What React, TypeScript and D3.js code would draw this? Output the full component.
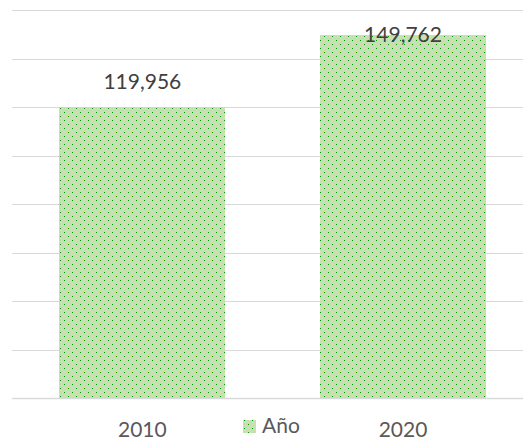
import React from "react";
import * as d3 from "d3";

const categories = ["2010", "2020"];
const values = [119956, 149762];
const seriesName = "Año";
const yTicks = [0, 20000, 40000, 60000, 80000, 100000, 120000, 140000, 160000];

const W = 523;
const H = 441;
const FONT = "Lato, 'Open Sans', sans-serif";

export default function App() {
  const x = d3.scaleBand<string>().domain(categories).range([12, 533.4]).paddingInner(0.363).paddingOuter(0.1815);
  const y = d3.scaleLinear().domain([0, 160000]).range([398, 10]);
  const fmt = d3.format(",");
  const bw = x.bandwidth();

  return (
    <svg width={W} height={H} style={{ position: "absolute", left: 0, top: 0, background: "#fff" }} fontFamily={FONT}>
      <defs>
        <pattern id="dots" width={8} height={8} patternUnits="userSpaceOnUse">
          <rect width={8} height={8} fill="#c6e0b4" />
          <rect x={0} y={0} width={1} height={1} fill="#009900" shapeRendering="crispEdges" />
          <rect x={4} y={4} width={1} height={1} fill="#009900" shapeRendering="crispEdges" />
        </pattern>
      </defs>
      {yTicks.map((t) => (
        <line key={t} x1={12} x2={W} y1={Math.round(y(t)) + 0.5} y2={Math.round(y(t)) + 0.5} stroke="#d9d9d9" strokeWidth={t === 0 ? 1.5 : 1} />
      ))}
      {categories.map((c, i) => (
        <rect key={c} x={Math.round(x(c) as number)} y={Math.round(y(values[i]))} width={Math.round(bw)} height={Math.round(y(0)) - Math.round(y(values[i]))} fill="url(#dots)" shapeRendering="crispEdges" />
      ))}
      {categories.map((c, i) => (
        <text key={"l" + c} x={(x(c) as number) + bw / 2} y={Math.max(y(values[i]) - 18, 42)} textAnchor="middle" fontSize={21} fill="#404040">
          {fmt(values[i])}
        </text>
      ))}
      {categories.map((c) => (
        <text key={"t" + c} x={(x(c) as number) + bw / 2} y={437} textAnchor="middle" fontSize={21} fill="#595959">
          {c}
        </text>
      ))}
      <g>
        <rect x={243} y={420} width={13} height={13} fill="url(#dots)" shapeRendering="crispEdges" />
        <text x={262} y={433} fontSize={21} fill="#595959">{seriesName}</text>
      </g>
    </svg>
  );
}
